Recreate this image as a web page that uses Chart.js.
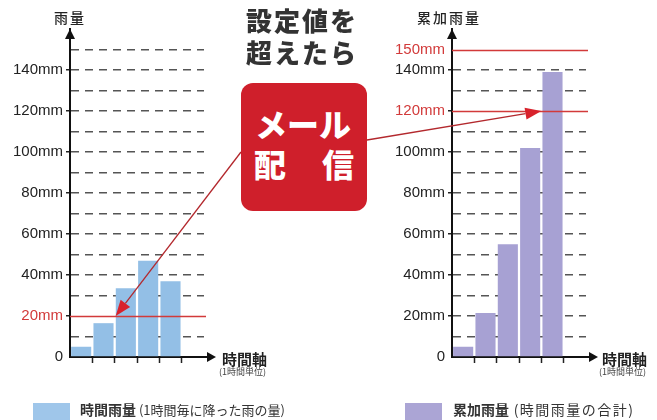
<!DOCTYPE html>
<html>
<head>
<meta charset="utf-8">
<script src="https://cdn.jsdelivr.net/npm/chart.js@4.4.1/dist/chart.umd.min.js"></script>
<style>
  body { margin: 0; width: 657px; height: 420px; position: relative; overflow: hidden; background: #fff;
         font-family: "Noto Sans CJK JP", sans-serif; color: #222; }
  .abs { position: absolute; line-height: 1; white-space: nowrap; }
  canvas { position: absolute; top: 0; }
  #box { left: 241px; top: 83px; width: 126px; height: 128px; border-radius: 12px; background: #cf1f2b; color: #fff; font-weight: 900; }
  .sq { position: absolute; top: 403px; width: 37px; height: 20px; }
</style>
</head>
<body>
<canvas id="leftChart" width="230" height="400" style="left:0"></canvas>
<canvas id="rightChart" width="230" height="400" style="left:382px"></canvas>

<div class="abs" style="left:54px;top:10px;font-size:14px;font-weight:500;letter-spacing:2px">雨量</div>
<div class="abs" style="left:417px;top:10px;font-size:14px;font-weight:500;letter-spacing:2px">累加雨量</div>

<div class="abs" style="left:246px;top:7px;font-size:26px;font-weight:900;letter-spacing:2px;color:#333">設定値を</div>
<div class="abs" style="left:246px;top:39px;font-size:26px;font-weight:900;letter-spacing:2px;color:#333">超えたら</div>

<div id="box" class="abs">
  <div class="abs" style="left:14px;top:24px;font-size:32px">メール</div>
  <div class="abs" style="left:13px;top:64px;font-size:32px">配</div>
  <div class="abs" style="left:81px;top:64px;font-size:32px">信</div>
</div>

<div class="abs" style="left:222px;top:351px;font-size:15px;font-weight:700">時間軸</div>
<div class="abs" style="left:219px;top:367px;font-size:9px;color:#444">(1時間単位)</div>
<div class="abs" style="left:602px;top:351px;font-size:15px;font-weight:700">時間軸</div>
<div class="abs" style="left:599px;top:367px;font-size:9px;color:#444">(1時間単位)</div>

<div class="sq" style="left:33px;background:#9fc6ea"></div>
<div class="abs" style="left:80px;top:402px;font-size:14px;color:#333"><b>時間雨量</b><span style="font-size:13px"> (1時間毎に降った雨の量)</span></div>
<div class="sq" style="left:405px;background:#aba5d5"></div>
<div class="abs" style="left:453px;top:402px;font-size:14px;color:#333"><b>累加雨量</b><span style="font-size:14px;letter-spacing:1.5px"> (時間雨量の合計)</span></div>

<canvas id="overlay" width="657" height="420" style="left:0;pointer-events:none"></canvas>

<script>
// data
const hours = ['1', '2', '3', '4', '5', ''];
const hourlyRain = [5, 16.5, 33.5, 47, 37, null];
const totalRain = [5, 21.5, 55, 102, 139, null];
const mmTicks = [0, 20, 40, 60, 80, 100, 120, 140];
const hourlyLimits = [20];
const totalLimits = [120, 150];

const RED = '#d23a3a';
const tickFont = { family: '"Liberation Sans", Arial, sans-serif', size: 15 };

// red setting lines + the arrow heads on both axes
const axisDeco = {
  id: 'axisDeco',
  afterDraw(chart, args, opts) {
    const { ctx, chartArea: a, scales } = chart;
    ctx.save();
    ctx.strokeStyle = RED;
    ctx.lineWidth = 1.5;
    opts.limits.forEach(v => {
      const y = Math.round(scales.y.getPixelForValue(v)) + 0.5;
      ctx.beginPath();
      ctx.moveTo(a.left, y);
      ctx.lineTo(a.right + 2, y);
      ctx.stroke();
    });
    ctx.fillStyle = '#111';
    ctx.strokeStyle = '#111';
    ctx.lineWidth = 2;
    // y axis arrow
    ctx.beginPath();
    ctx.moveTo(a.left - 5, a.top + 10);
    ctx.lineTo(a.left, a.top);
    ctx.lineTo(a.left + 5, a.top + 10);
    ctx.fill();
    // x axis arrow
    ctx.beginPath();
    ctx.moveTo(a.right, a.bottom);
    ctx.lineTo(a.right + 5, a.bottom);
    ctx.stroke();
    ctx.beginPath();
    ctx.moveTo(a.right + 3, a.bottom - 5);
    ctx.lineTo(a.right + 12, a.bottom);
    ctx.lineTo(a.right + 3, a.bottom + 5);
    ctx.fill();
    ctx.restore();
  }
};

function makeChart(id, values, color, limits) {
  const shown = limits.includes(150) ? mmTicks.concat([150]) : mmTicks;
  return new Chart(document.getElementById(id), {
    type: 'bar',
    data: {
      labels: hours,
      datasets: [{ data: values, backgroundColor: color, barPercentage: 0.9, categoryPercentage: 1 }]
    },
    options: {
      responsive: false,
      animation: false,
      layout: { padding: { top: 29, right: 26, left: 0, bottom: 0 } },
      plugins: {
        legend: { display: false },
        tooltip: { enabled: false },
        axisDeco: { limits: limits }
      },
      scales: {
        x: {
          afterFit: s => { s.height = 43; },
          ticks: { display: false },
          grid: {
            offset: true,
            drawOnChartArea: false,
            tickLength: 6,
            tickWidth: 1.5,
            tickColor: c => (c.index >= 1 && c.index <= 5) ? '#222' : 'rgba(0,0,0,0)'
          },
          border: { color: '#111', width: 2 }
        },
        y: {
          min: 0,
          max: 160,
          z: 1,
          afterFit: s => { s.width = 70; },
          ticks: {
            stepSize: 10,
            autoSkip: false,
            padding: 3,
            font: tickFont,
            color: c => limits.includes(c.tick.value) ? RED : '#222',
            callback: v => shown.includes(v) ? (v === 0 ? '0' : v + 'mm') : ''
          },
          grid: {
            lineWidth: 1.5,
            tickLength: 4,
            color: c => (c.tick.value === 0 || c.tick.value === 160 || limits.includes(c.tick.value)) ? 'rgba(0,0,0,0)' : '#555',
            tickColor: c => (mmTicks.includes(c.tick.value) && c.tick.value > 0) ? '#222' : 'rgba(0,0,0,0)'
          },
          border: { color: '#111', width: 2, dash: [8, 6] }
        }
      }
    },
    plugins: [axisDeco]
  });
}

const leftChart = makeChart('leftChart', hourlyRain, '#93bfe6', hourlyLimits);
const rightChart = makeChart('rightChart', totalRain, '#a7a1d3', totalLimits);

// red arrows from the charts to the mail box
function arrow(ctx, x1, y1, x2, y2) {
  const ang = Math.atan2(y2 - y1, x2 - x1);
  const len = 16, half = 6;
  const bx = x2 - Math.cos(ang) * len, by = y2 - Math.sin(ang) * len;
  ctx.strokeStyle = '#b3282d';
  ctx.lineWidth = 1.3;
  ctx.beginPath();
  ctx.moveTo(x1, y1);
  ctx.lineTo(bx, by);
  ctx.stroke();
  ctx.fillStyle = '#d8222c';
  ctx.beginPath();
  ctx.moveTo(x2, y2);
  ctx.lineTo(bx + Math.sin(ang) * half, by - Math.cos(ang) * half);
  ctx.lineTo(bx - Math.sin(ang) * half, by + Math.cos(ang) * half);
  ctx.fill();
}

const ov = document.getElementById('overlay').getContext('2d');
const lx = leftChart.scales.x, ly = leftChart.scales.y;
const rx = rightChart.scales.x, ry = rightChart.scales.y;
arrow(ov, 241, 152, (lx.getPixelForValue(1) + lx.getPixelForValue(2)) / 2 + 1, ly.getPixelForValue(hourlyLimits[0]));
arrow(ov, 367, 140, 382 + (rx.getPixelForValue(3) + rx.getPixelForValue(4)) / 2, ry.getPixelForValue(totalLimits[0]));
</script>
</body>
</html>
